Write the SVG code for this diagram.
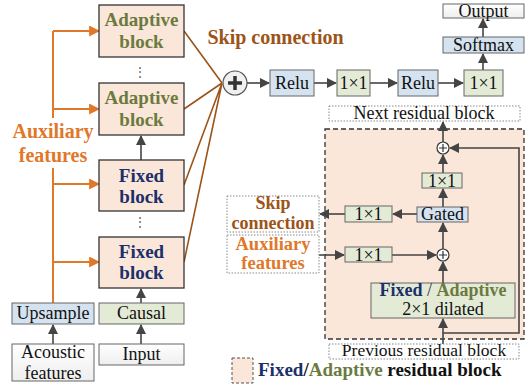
<svg xmlns="http://www.w3.org/2000/svg" width="532" height="385" viewBox="0 0 532 385" font-family="'Liberation Serif', 'DejaVu Serif', serif">
<defs>
<marker id="ah" viewBox="0 0 10 10" refX="9" refY="5" markerWidth="10" markerHeight="10" markerUnits="userSpaceOnUse" orient="auto"><path d="M0,0 L10,5 L0,10 z" fill="#444"/></marker>
<marker id="ao" viewBox="0 0 10 10" refX="9" refY="5" markerWidth="11" markerHeight="11" markerUnits="userSpaceOnUse" orient="auto"><path d="M0,0 L10,5 L0,10 z" fill="#E0782A"/></marker>
<linearGradient id="gw" x1="0" y1="0" x2="0" y2="1"><stop offset="0" stop-color="#ffffff"/><stop offset="1" stop-color="#eeeeee"/></linearGradient>
</defs>
<style>
text, tspan { font-family: 'Liberation Serif', 'DejaVu Serif', serif; }
text { text-anchor: middle; }
.blk{fill:#FBE7D9;stroke:#333;stroke-width:1.3}
.blue{fill:#D5E3F0;stroke:#666;stroke-width:1}
.green{fill:#E3EAD5;stroke:#666;stroke-width:1}
.white{fill:url(#gw);stroke:#666;stroke-width:1}
.dot{fill:#fff;stroke:#888;stroke-width:1;stroke-dasharray:1.5 1.5}
.ln{stroke:#444;stroke-width:1.6;fill:none}
.or{stroke:#E0782A;stroke-width:2;fill:none}
.fan{stroke:#9C5418;stroke-width:1.6;fill:none}
.t{font-size:18px;fill:#111}
.bt{font-size:19px;font-weight:bold}
.ad{fill:#6B7A3F}
.fx{fill:#1B2F6B}
.orange{fill:#E0782A}
.brown{fill:#9C5418}
</style>

<g id="region">
<rect x="325" y="129" width="199" height="210" fill="#FBE7D9" stroke="#333" stroke-width="1.3" stroke-dasharray="5 3"/>
</g>

<g id="connectors">
<path class="or" d="M53,303 V168 M53,118 V31"/>
<path class="or" d="M53,31 H99" marker-end="url(#ao)"/>
<path class="or" d="M53,109 H99" marker-end="url(#ao)"/>
<path class="or" d="M53,184 H99" marker-end="url(#ao)"/>
<path class="or" d="M53,262 H99" marker-end="url(#ao)"/>
<path class="fan" d="M184,31 L222,83 M184,109 L222,83 M184,185 L222,83 M184,262 L222,83"/>
<path class="ln" d="M141,160 V136" marker-end="url(#ah)"/>
<path class="ln" d="M141,303 V289" marker-end="url(#ah)"/>
<path class="ln" d="M141,344 V325" marker-end="url(#ah)"/>
<path class="ln" d="M53,344 V325" marker-end="url(#ah)"/>
<path class="ln" d="M247,83 H269" marker-end="url(#ah)"/>
<path class="ln" d="M314,83 H336" marker-end="url(#ah)"/>
<path class="ln" d="M370,83 H397" marker-end="url(#ah)"/>
<path class="ln" d="M438,83 H463" marker-end="url(#ah)"/>
<path class="ln" d="M483,70 V54" marker-end="url(#ah)"/>
<path class="ln" d="M483,37 V19" marker-end="url(#ah)"/>
<path class="ln" d="M443,142 V122" marker-end="url(#ah)"/>
<path class="ln" d="M443,173 V155" marker-end="url(#ah)"/>
<path class="ln" d="M443,207 V189" marker-end="url(#ah)"/>
<path class="ln" d="M443,249 V223" marker-end="url(#ah)"/>
<path class="ln" d="M443,283 V262" marker-end="url(#ah)"/>
<path class="ln" d="M443,344 V319" marker-end="url(#ah)"/>
<path class="ln" d="M443,333 H519 V148 H450" marker-end="url(#ah)"/>
<path class="ln" d="M417,214 H393" marker-end="url(#ah)"/>
<path class="ln" d="M345,214 H320" marker-end="url(#ah)"/>
<path class="ln" d="M319,255 H344" marker-end="url(#ah)"/>
<path class="ln" d="M392,255 H436" marker-end="url(#ah)"/>
</g>

<g id="adaptive1"><rect class="blk" x="99" y="5" width="85" height="52"/><text class="bt ad" x="141.5" y="26">Adaptive</text><text class="bt ad" x="141.5" y="48">block</text></g>
<g id="vdots1"><text x="140" y="76" style="font-size:12px;fill:#555">⋮</text></g>
<g id="adaptive2"><rect class="blk" x="99" y="83" width="85" height="52"/><text class="bt ad" x="141.5" y="104">Adaptive</text><text class="bt ad" x="141.5" y="126">block</text></g>
<g id="fixed1"><rect class="blk" x="99" y="160" width="85" height="51"/><text class="bt fx" x="141.5" y="182">Fixed</text><text class="bt fx" x="141.5" y="203">block</text></g>
<g id="vdots2"><text x="140" y="226" style="font-size:12px;fill:#555">⋮</text></g>
<g id="fixed2"><rect class="blk" x="99" y="237" width="85" height="51"/><text class="bt fx" x="141.5" y="258">Fixed</text><text class="bt fx" x="141.5" y="279">block</text></g>
<g id="upsample"><rect class="blue" x="12" y="303" width="82" height="21"/><text class="t" x="53" y="319">Upsample</text></g>
<g id="causal"><rect class="green" x="99" y="303" width="85" height="21"/><text class="t" x="141.5" y="319">Causal</text></g>
<g id="acoustic"><rect class="white" x="12" y="344" width="82" height="37"/><text class="t" x="53" y="358">Acoustic</text><text class="t" x="53" y="379">features</text></g>
<g id="input"><rect class="white" x="99" y="344" width="85" height="21"/><text class="t" x="141.5" y="360">Input</text></g>
<g id="aux-label"><text class="bt orange" x="53" y="138" style="font-size:20px">Auxiliary</text><text class="bt orange" x="53" y="162" style="font-size:20px">features</text></g>
<g id="skip-label"><text class="bt brown" x="275.5" y="44" style="font-size:20px">Skip connection</text></g>

<g id="sum-main"><circle cx="235" cy="83" r="12" fill="#f0f0f0" stroke="#555" stroke-width="1.2"/><path d="M228,83 H242 M235,76 V90" stroke="#333" stroke-width="3.5"/></g>
<g id="relu1"><rect class="blue" x="270" y="70" width="44" height="26"/><text class="t" x="292" y="89">Relu</text></g>
<g id="conv1"><rect class="green" x="337" y="70" width="33" height="26"/><text class="t" x="353.5" y="89">1×1</text></g>
<g id="relu2"><rect class="blue" x="398" y="70" width="40" height="26"/><text class="t" x="418" y="89">Relu</text></g>
<g id="conv2"><rect class="green" x="464" y="70" width="39" height="26"/><text class="t" x="483.5" y="89">1×1</text></g>
<g id="softmax"><rect class="blue" x="443" y="37" width="81" height="16"/><text class="t" x="483.5" y="51">Softmax</text></g>
<g id="output"><rect class="white" x="443" y="4" width="81" height="14"/><text class="t" x="483.5" y="17">Output</text></g>

<g id="next"><rect class="dot" x="329" y="106" width="191" height="15"/><text class="t" x="424" y="119">Next residual block</text></g>
<g id="sum-top"><circle cx="443" cy="148" r="6" fill="#fff" stroke="#333" stroke-width="1.2"/><path d="M439,148 H447 M443,144 V152" stroke="#333" stroke-width="1.2"/></g>
<g id="conv-res"><rect class="green" x="422" y="173" width="40" height="15"/><text class="t" x="442" y="187">1×1</text></g>
<g id="gated"><rect class="blue" x="417" y="207" width="51" height="15"/><text class="t" x="442.5" y="220">Gated</text></g>
<g id="conv-skip"><rect class="green" x="345" y="206" width="47" height="16"/><text class="t" x="368.5" y="220">1×1</text></g>
<g id="skip-box"><rect class="dot" x="227" y="196" width="92" height="36"/><text class="bt brown" x="273" y="209" style="font-size:18px">Skip</text><text class="bt brown" x="273" y="229" style="font-size:18px">connection</text></g>
<g id="aux-box"><rect class="dot" x="227" y="235" width="92" height="38"/><text class="bt orange" x="273" y="250" style="font-size:18.5px">Auxiliary</text><text class="bt orange" x="273" y="269" style="font-size:18.5px">features</text></g>
<g id="conv-aux"><rect class="green" x="345" y="247" width="47" height="15"/><text class="t" x="368.5" y="261">1×1</text></g>
<g id="sum-bot"><circle cx="443" cy="255" r="6" fill="#fff" stroke="#333" stroke-width="1.2"/><path d="M439,255 H447 M443,251 V259" stroke="#333" stroke-width="1.2"/></g>
<g id="dilated"><rect class="green" x="371" y="283" width="144" height="35"/><text x="443" y="296" style="font-size:18px"><tspan class="fx" font-weight="bold">Fixed</tspan><tspan fill="#333"> / </tspan><tspan class="ad" font-weight="bold">Adaptive</tspan></text><text class="t" x="443" y="315">2×1 dilated</text></g>
<g id="prev"><rect class="dot" x="329" y="344" width="190" height="15"/><text class="t" x="424" y="356" style="font-size:17.5px">Previous residual block</text></g>
<g id="legend"><rect x="232" y="358" width="21" height="25" fill="#FBE7D9" stroke="#555" stroke-width="1" stroke-dasharray="3 2"/><text x="258" y="376" style="font-size:19px;font-weight:bold;text-anchor:start"><tspan class="fx">Fixed</tspan><tspan fill="#111">/</tspan><tspan class="ad">Adaptive</tspan><tspan fill="#111"> residual block</tspan></text></g>
</svg>
